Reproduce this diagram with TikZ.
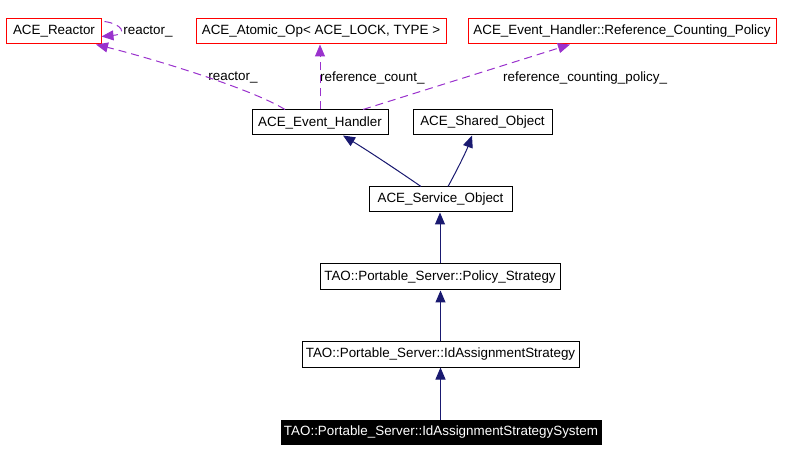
\documentclass[tikz,border=0pt]{standalone}
\usepackage{fontspec}
\setmainfont{Liberation Sans}
\usetikzlibrary{arrows.meta,calc}
\definecolor{depc}{HTML}{9A32CD}
\definecolor{inhc}{HTML}{191970}
\begin{document}
\begin{tikzpicture}[x=1bp,y=-1bp,
  box/.style={draw=black, line width=1bp, minimum height=25bp, inner sep=0pt, font=\fontsize{13.4bp}{16bp}\selectfont},
  redbox/.style={box, draw=red},
  selbox/.style={box, fill=black, text=white, minimum height=24bp},
  lbl/.style={inner sep=0pt, font=\fontsize{13.4bp}{16bp}\selectfont},
  dep/.style={draw=depc, line width=1bp, dash pattern=on 8bp off 5bp, -{Triangle[length=12bp,width=10bp]}},
  inh/.style={draw=inhc, line width=1bp, -{Triangle[length=12bp,width=10bp]}}]
\useasboundingbox (0,0) rectangle (792,462);
% nodes
\node[redbox, minimum width=94bp] (reactor) at (54,31.5) {ACE\_Reactor};
\node[redbox, minimum width=250bp] (atomic) at (321,31.5) {ACE\_Atomic\_Op< ACE\_LOCK, TYPE >};
\node[redbox, minimum width=308bp] (rcp) at (622,31.5) {ACE\_Event\_Handler::Reference\_Counting\_Policy};
\node[box, minimum width=136bp] (eh) at (320,122.5) {ACE\_Event\_Handler};
\node[box, minimum width=139bp] (so) at (482.5,122.5) {ACE\_Shared\_Object};
\node[box, minimum width=143bp] (svc) at (440.5,199.5) {ACE\_Service\_Object};
\node[box, minimum width=240bp, minimum height=26bp] (ps) at (440,277) {TAO::Portable\_Server::Policy\_Strategy};
\node[box, minimum width=277bp] (ias) at (440.5,354.5) {TAO::Portable\_Server::IdAssignmentStrategy};
\node[selbox, minimum width=320bp] (iass) at (441,432) {TAO::Portable\_Server::IdAssignmentStrategySystem};
% labels
\node[lbl] (l1) at (148,32) {reactor\_};
\node[lbl] (l2) at (233,78) {reactor\_};
\node[lbl, anchor=west] (l3) at (320,78) {reference\_count\_};
\node[lbl, anchor=west] (l4) at (503,78) {reference\_counting\_policy\_};
% dependency edges
\draw[dep] ([xshift=3bp,yshift=-3bp]reactor.north east) .. controls (122,24) and (128,34) .. ([yshift=-5bp]reactor.east);
\draw[dep] ([xshift=-35bp]eh.north) .. controls (250,88) and (150,58) .. ([xshift=42bp]reactor.south);
\draw[dep] (eh.north) -- (eh.north |- atomic.south);
\draw[dep] ([xshift=43bp]eh.north) -- ([xshift=-52bp]rcp.south);
% inheritance edges
\draw[inh] ([xshift=-19.5bp]svc.north) .. controls (400,172) and (370,152) .. ([xshift=23bp]eh.south);
\draw[inh] ([xshift=7.5bp]svc.north) .. controls (456,172) and (466,152) .. ([xshift=-10.5bp]so.south);
\draw[inh] (ps.north) -- (ps.north |- svc.south);
\draw[inh] (ias.north) -- (ias.north |- ps.south);
\draw[inh] (iass.north -| ias.south) -- (ias.south);
\end{tikzpicture}
\end{document}
